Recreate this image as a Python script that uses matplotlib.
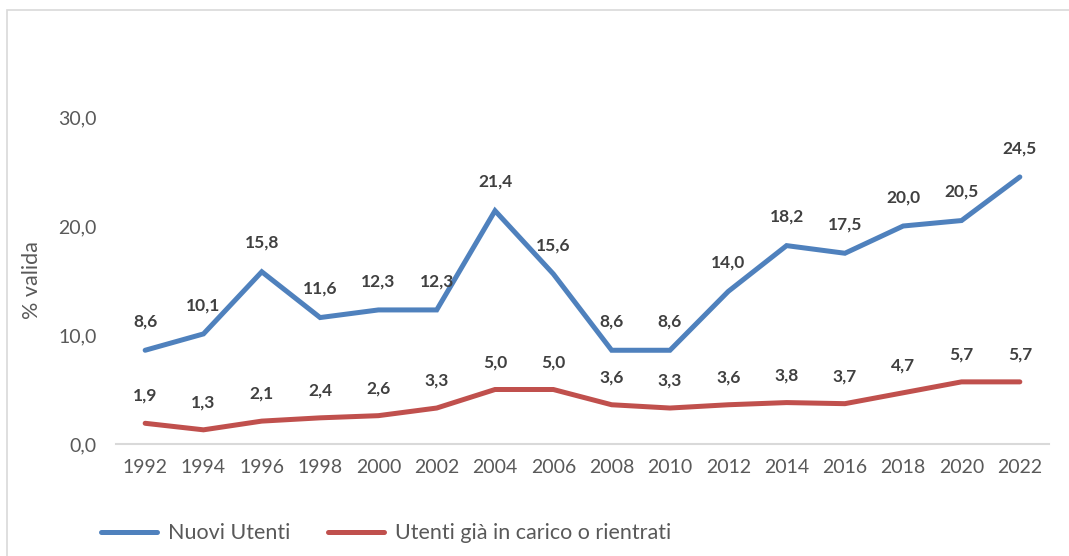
import matplotlib
matplotlib.use("Agg")
import matplotlib.pyplot as plt
from matplotlib.patches import Rectangle

years = ["1992", "1994", "1996", "1998", "2000", "2002", "2004", "2006",
         "2008", "2010", "2012", "2014", "2016", "2018", "2020", "2022"]
nuovi = [8.6, 10.1, 15.8, 11.6, 12.3, 12.3, 21.4, 15.6, 8.6, 8.6, 14.0, 18.2, 17.5, 20.0, 20.5, 24.5]
gia = [1.9, 1.3, 2.1, 2.4, 2.6, 3.3, 5.0, 5.0, 3.6, 3.3, 3.6, 3.8, 3.7, 4.7, 5.7, 5.7]
yticks = [0, 10, 20, 30]
series_names = ["Nuovi Utenti", "Utenti già in carico o rientrati"]

plt.rcParams['font.family'] = ['Lato', 'DejaVu Sans']

fig = plt.figure(figsize=(10.69, 5.56), dpi=100)
fig.patches.append(Rectangle((7 / 1069, -0.1), 1.2, 1 - 10 / 556 + 0.1, transform=fig.transFigure,
                             fill=False, edgecolor="#D9D9D9", linewidth=1.2))
ax = fig.add_axes([116 / 1069, 1 - 444 / 556, (1049 - 116) / 1069, (444 - 117) / 556])

x = list(range(len(years)))
blue = "#4F81BD"
red = "#C0504D"
ax.plot(x, nuovi, color=blue, lw=3.6, solid_capstyle="round", solid_joinstyle="miter", label=series_names[0])
ax.plot(x, gia, color=red, lw=3.6, solid_capstyle="round", solid_joinstyle="miter", label=series_names[1])

for xi, v in zip(x, nuovi):
    ax.annotate(f"{v:.1f}".replace(".", ","), (xi, v), xytext=(0, 15), textcoords="offset points",
                ha="center", va="bottom", fontsize=12.5, fontweight="bold", color="#404040", clip_on=False)
for xi, v in zip(x, gia):
    ax.annotate(f"{v:.1f}".replace(".", ","), (xi, v), xytext=(0, 14), textcoords="offset points",
                ha="center", va="bottom", fontsize=12.5, fontweight="bold", color="#404040", clip_on=False)

ax.set_xlim(-0.5, len(years) - 0.5)
ax.set_ylim(0, 30)
ax.set_xticks(x)
ax.set_xticklabels(years)
ax.set_yticks(yticks)
ax.set_yticklabels([f"{t:.1f}".replace(".", ",") for t in yticks])
ax.tick_params(axis="both", length=0, labelsize=14, colors="#595959")
ax.tick_params(axis="x", pad=11)
ax.tick_params(axis="y", pad=14)
for s in ["top", "right", "left"]:
    ax.spines[s].set_visible(False)
ax.spines["bottom"].set_color("#D9D9D9")
ax.spines["bottom"].set_linewidth(1.5)
ax.set_ylabel("% valida", fontsize=15.5, color="#595959")
ax.yaxis.set_label_coords(-0.079, 0.5)

leg = fig.legend(loc="lower left", bbox_to_anchor=(82 / 1069, -0.012), ncol=2, frameon=False,
                 fontsize=15.5, handlelength=2.6, columnspacing=1.75, handletextpad=0.5,
                 labelcolor="#595959")
fig.savefig("out.png", dpi=100)
